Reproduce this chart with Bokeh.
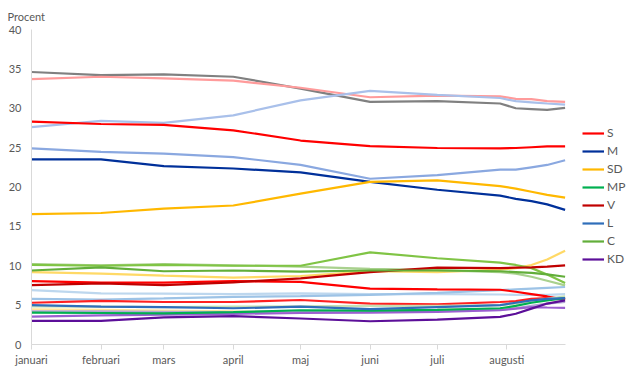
import pandas as pd
from bokeh.plotting import figure
from bokeh.models import Range1d, FixedTicker, Legend, LegendItem
from bokeh.embed import file_html
from bokeh.resources import INLINE

# ---- data -------------------------------------------------------------
dates = ["2018-01-01", "2018-02-01", "2018-03-01", "2018-04-01", "2018-05-01",
         "2018-06-01", "2018-07-01", "2018-07-29", "2018-08-05", "2018-08-12",
         "2018-08-19", "2018-08-27"]
month_starts = ["2018-01-01", "2018-02-01", "2018-03-01", "2018-04-01",
                "2018-05-01", "2018-06-01", "2018-07-01", "2018-08-01"]
month_labels = ["januari", "februari", "mars", "april", "maj", "juni", "juli", "augusti"]
y_ticks = [0, 5, 10, 15, 20, 25, 30, 35, 40]

# legend parties
S_vals  = [28.3, 28.0, 27.9, 27.2, 25.9, 25.2, 24.95, 24.9, 24.95, 25.05, 25.15, 25.15]
M_vals  = [23.5, 23.5, 22.65, 22.35, 21.85, 20.65, 19.65, 18.9, 18.5, 18.2, 17.8, 17.1]
SD_vals = [16.55, 16.7, 17.25, 17.65, 19.15, 20.65, 20.85, 20.1, 19.8, 19.4, 19.0, 18.65]
MP_vals = [4.05, 4.0, 3.95, 4.1, 4.35, 4.3, 4.4, 4.6, 4.9, 5.3, 5.6, 5.9]
V_vals  = [7.55, 7.75, 7.55, 7.9, 8.4, 9.2, 9.75, 9.7, 9.75, 9.8, 9.9, 10.05]
L_vals  = [5.0, 4.8, 4.75, 4.6, 4.8, 4.5, 4.75, 5.0, 5.3, 5.6, 5.8, 5.9]
C_vals  = [9.4, 9.8, 9.3, 9.4, 9.25, 9.4, 9.4, 9.3, 9.2, 9.1, 8.9, 8.6]
KD_vals = [3.0, 3.0, 3.45, 3.6, 3.3, 2.95, 3.15, 3.5, 3.9, 4.55, 5.2, 5.6]

# unlabelled comparison series
grey_vals      = [34.6, 34.2, 34.3, 34.0, 32.5, 30.8, 30.9, 30.6, 30.0, 29.9, 29.8, 30.05]
pink_vals      = [33.7, 34.0, 33.8, 33.5, 32.6, 31.4, 31.6, 31.5, 31.2, 31.15, 30.9, 30.8]
paleblue_vals  = [27.6, 28.4, 28.15, 29.1, 31.0, 32.2, 31.7, 31.3, 30.9, 30.75, 30.6, 30.45]
midblue_vals   = [24.9, 24.45, 24.25, 23.8, 22.8, 21.05, 21.5, 22.2, 22.2, 22.5, 22.8, 23.4]
paleyel_vals   = [9.2, 9.0, 8.75, 8.5, 8.7, 9.3, 9.2, 9.5, 9.7, 10.1, 10.8, 11.9]
palegreen_vals = [10.2, 10.05, 10.2, 10.05, 9.9, 9.6, 9.45, 9.2, 9.0, 8.6, 8.1, 7.5]
spike_vals     = [10.1, 10.0, 10.1, 10.0, 10.0, 11.7, 10.95, 10.4, 10.1, 9.7, 8.9, 7.8]
skyblue_vals   = [6.9, 6.5, 6.45, 6.4, 6.5, 6.4, 6.4, 6.35, 6.3, 6.3, 6.3, 6.4]
skyblue2_vals  = [5.8, 5.7, 5.85, 6.05, 6.15, 6.3, 6.55, 6.9, 7.0, 7.1, 7.2, 7.3]
red2_vals      = [8.05, 7.85, 7.85, 8.05, 7.95, 7.1, 7.0, 6.95, 6.7, 6.4, 6.1, 5.7]
red3_vals      = [5.3, 5.55, 5.4, 5.4, 5.65, 5.2, 5.1, 5.4, 5.5, 5.8, 5.9, 5.85]
palegreen2_vals = [4.85, 4.8, 4.75, 4.8, 4.85, 4.9, 4.9, 5.0, 5.2, 5.5, 5.8, 6.1]
paleyel2_vals  = [4.45, 4.4, 4.3, 4.2, 4.15, 4.35, 4.4, 4.5, 4.6, 4.8, 5.2, 5.6]
lilac_vals     = [4.2, 4.2, 4.15, 4.1, 4.2, 4.2, 4.3, 4.4, 4.6, 4.9, 5.2, 5.4]
purple2_vals   = [3.55, 3.7, 3.8, 3.9, 4.0, 4.05, 4.15, 4.35, 4.55, 4.75, 4.7, 4.65]

# ---- helpers ----------------------------------------------------------
origin = pd.Timestamp(dates[0])


def to_days(ds):
    return [(pd.Timestamp(d) - origin).days for d in ds]


x = to_days(dates)
tick_x = to_days(month_starts)

FONT = "Lato"
TXT = "#595959"

W, H = 632, 382
LEFT, TOP, BOTTOM = 31, 29, 38
DATA_PX = 533.6                       # pixel width taken by the data span
frame_w = W - LEFT
x_end = x[-1] * frame_w / DATA_PX     # room on the right for the legend

p = figure(width=W, height=H, output_backend="svg", toolbar_location=None,
           x_range=Range1d(0, x_end), y_range=Range1d(0, 40),
           min_border_left=LEFT, min_border_right=0, min_border_top=TOP,
           min_border_bottom=BOTTOM)
p.outline_line_color = None
p.grid.visible = False
p.background_fill_color = "white"
p.border_fill_color = "white"

p.title.text = "Procent"
p.title.align = "left"
p.title.offset = -24
p.title.standoff = 13
p.title.text_font = FONT
p.title.text_font_size = "11px"
p.title.text_font_style = "normal"
p.title.text_color = TXT

# axes
p.xaxis.bounds = (0, x[-1])
p.xaxis.ticker = FixedTicker(ticks=tick_x)
p.xaxis.major_label_overrides = {t: lab for t, lab in zip(tick_x, month_labels)}
p.xaxis.axis_line_color = "#D9D9D9"
p.xaxis.major_tick_line_color = "#D9D9D9"
p.xaxis.major_tick_out = 5
p.xaxis.major_tick_in = 0
p.xaxis.minor_tick_line_color = None
p.xaxis.major_label_standoff = 3
p.yaxis.ticker = FixedTicker(ticks=y_ticks)
p.yaxis.axis_line_color = "#D9D9D9"
p.yaxis.major_tick_line_color = None
p.yaxis.minor_tick_line_color = None
p.yaxis.major_tick_out = 0
p.yaxis.major_tick_in = 0
p.yaxis.major_label_standoff = 10
for ax in (p.xaxis, p.yaxis):
    ax.major_label_text_font = FONT
    ax.major_label_text_font_size = "11px"
    ax.major_label_text_color = TXT

LW = 2.2
background = [
    (grey_vals, "#808080"), (pink_vals, "#FF9B9B"), (paleblue_vals, "#A9C0EA"),
    (midblue_vals, "#8AA8E0"), (paleyel_vals, "#FFD966"), (palegreen_vals, "#A9D18E"),
    (spike_vals, "#80C445"), (skyblue_vals, "#BDD7EE"), (skyblue2_vals, "#9DC3E6"),
    (red2_vals, "#FF0000"), (red3_vals, "#FF2020"), (palegreen2_vals, "#C5E0B4"),
    (paleyel2_vals, "#FFE699"), (lilac_vals, "#B4A7D6"), (purple2_vals, "#9B5FD0"),
]
for vals, col in background:
    p.line(x, vals, line_color=col, line_width=LW)

parties = [("S", S_vals, "#FF0000"), ("M", M_vals, "#00309A"),
           ("SD", SD_vals, "#FFB800"), ("MP", MP_vals, "#00B050"),
           ("V", V_vals, "#C00000"), ("L", L_vals, "#2F6EBA"),
           ("C", C_vals, "#62AE3A"), ("KD", KD_vals, "#5C0F99")]
items = []
for name, vals, col in parties:
    r = p.line(x, vals, line_color=col, line_width=LW)
    items.append(LegendItem(label=name, renderers=[r]))

legend = Legend(items=items, location=(551, 78), padding=0, margin=0,
                spacing=3, glyph_width=22, glyph_height=12, label_height=12,
                label_standoff=3, label_text_font=FONT,
                label_text_font_size="12px", label_text_color=TXT,
                border_line_alpha=0, background_fill_alpha=0)
p.add_layout(legend, "center")

open("out.html", "w").write(file_html(p, INLINE))
